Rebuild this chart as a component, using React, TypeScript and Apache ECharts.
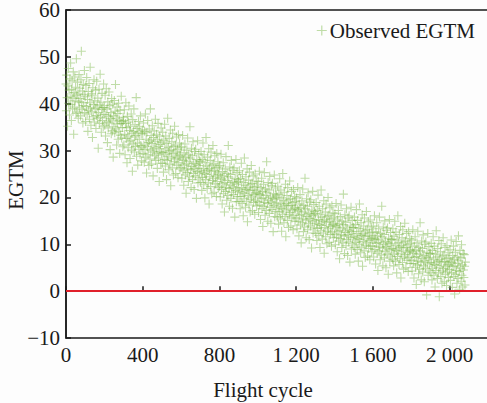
import React, { useEffect, useRef } from "react";
import * as echarts from "echarts";

// Observed EGTM, one reading every CYCLE_STEP flight cycles, grouped by 100 cycles
const CYCLE_STEP = 2;
const egtm0000 = [44.2, 38.5, 46.1, 41.3, 35.2, 43.8, 47.5, 40.1, 42.9, 37.6, 45.3, 39.8, 48.7, 41.6, 36.4, 43.1, 44.9, 38.9, 41.2, 46.8, 33.5, 42.4, 39.3, 45.7, 40.6, 43.5, 37.9, 49.6, 41.8, 38.2, 44.6, 42.1, 36.9, 40.4, 46.2, 39.1, 43.3, 41.1, 37.4, 45.1, 51.2, 40.2, 38.7, 42.7, 35.9, 44.1, 39.6, 41.9, 47.1, 38.1];
const egtm0100 = [41.5, 36.2, 43.9, 39.4, 45.6, 37.8, 40.9, 34.1, 42.6, 38.6, 44.3, 36.7, 40.2, 47.8, 39.1, 35.4, 42.1, 38.3, 41.7, 32.8, 43.4, 37.2, 39.8, 45.1, 36.1, 40.6, 38.9, 42.9, 34.7, 37.5, 44.8, 39.3, 36.9, 41.2, 30.5, 38.1, 43.1, 35.8, 39.7, 46.3, 37.1, 40.3, 33.9, 38.8, 42.2, 36.4, 39.2, 35.1, 44.2, 37.7];
const egtm0200 = [39.2, 35.4, 41.8, 33.1, 37.6, 43.2, 36.1, 38.9, 31.7, 40.4, 34.8, 37.2, 42.5, 35.9, 39.6, 30.2, 36.8, 38.1, 33.6, 41.1, 36.3, 34.2, 39.9, 28.6, 37.4, 35.1, 40.7, 33.8, 38.4, 44.1, 34.6, 36.9, 31.2, 39.3, 35.7, 37.9, 32.4, 40.1, 34.1, 36.5, 29.4, 38.6, 33.3, 35.8, 41.6, 32.7, 36.2, 34.9, 30.8, 37.1];
const egtm0300 = [36.4, 31.2, 38.7, 33.5, 29.1, 35.8, 40.2, 32.6, 34.9, 27.4, 37.3, 33.1, 30.6, 36.1, 39.5, 31.9, 34.3, 28.3, 35.2, 32.2, 37.8, 30.1, 33.7, 25.6, 36.6, 31.4, 34.1, 38.9, 29.7, 32.9, 35.5, 30.9, 33.2, 41.3, 28.8, 34.7, 31.6, 26.9, 33.9, 36.2, 30.3, 32.4, 35.1, 29.2, 37.4, 31.1, 33.6, 27.8, 30.7, 34.4];
const egtm0400 = [33.6, 29.4, 35.9, 31.2, 27.5, 34.1, 30.3, 37.8, 28.6, 32.4, 25.2, 33.9, 30.8, 36.4, 29.1, 31.7, 26.8, 34.6, 32.1, 28.2, 38.9, 30.1, 33.2, 27.1, 31.5, 35.3, 29.7, 24.6, 32.8, 30.4, 34.2, 28.9, 31.9, 36.7, 27.9, 30.6, 33.5, 29.3, 26.2, 32.3, 35.8, 28.4, 30.9, 23.4, 33.1, 29.8, 31.3, 27.3, 34.8, 29.5];
const egtm0500 = [31.8, 27.3, 33.9, 29.6, 25.4, 32.2, 28.1, 35.6, 30.4, 26.7, 33.1, 29.2, 23.8, 31.5, 27.9, 36.9, 28.8, 30.7, 25.9, 32.6, 29.9, 27.1, 34.4, 22.5, 30.1, 28.4, 31.9, 26.3, 33.7, 29.4, 24.8, 30.9, 27.6, 35.2, 28.2, 31.2, 25.1, 29.7, 32.9, 26.9, 28.6, 30.3, 24.2, 33.4, 27.4, 29.1, 31.6, 26.1, 28.9, 30.6];
const egtm0600 = [26.4, 30.8, 24.1, 28.2, 33.2, 25.7, 27.9, 22.6, 29.5, 26.9, 31.4, 24.8, 28.6, 20.9, 27.2, 30.1, 25.3, 32.7, 26.1, 23.4, 29.1, 27.6, 24.4, 35.1, 28.4, 25.9, 22.1, 30.5, 26.6, 28.9, 23.8, 31.9, 25.1, 27.3, 21.7, 29.8, 26.2, 24.6, 30.3, 27.1, 19.8, 28.1, 25.5, 32.1, 23.1, 26.8, 29.3, 24.2, 27.8, 25.8];
const egtm0700 = [27.6, 23.2, 29.8, 25.4, 21.5, 28.1, 24.3, 31.6, 26.2, 22.7, 29.1, 25.1, 19.9, 27.4, 23.8, 32.8, 24.9, 26.7, 21.9, 28.6, 25.8, 23.1, 30.4, 18.6, 26.1, 24.4, 27.9, 22.3, 29.7, 25.6, 20.8, 26.9, 23.6, 31.1, 24.1, 27.2, 21.1, 25.7, 28.9, 22.9, 24.6, 26.3, 20.2, 29.4, 23.4, 25.2, 27.6, 22.1, 24.9, 26.5];
const egtm0800 = [22.4, 26.8, 20.1, 24.2, 29.2, 21.7, 23.9, 18.6, 25.5, 22.9, 27.4, 20.8, 24.6, 16.9, 23.2, 26.1, 21.3, 28.7, 22.1, 19.4, 25.1, 23.6, 20.4, 31.1, 24.4, 21.9, 18.1, 26.5, 22.6, 24.9, 19.8, 27.9, 21.1, 23.3, 17.7, 25.8, 22.2, 20.6, 26.3, 23.1, 15.8, 24.1, 21.5, 28.1, 19.1, 22.8, 25.3, 20.2, 23.8, 21.8];
const egtm0900 = [23.4, 19.1, 25.7, 21.3, 17.6, 24.0, 20.2, 27.3, 22.1, 18.7, 24.9, 21.0, 16.1, 23.2, 19.7, 28.4, 20.8, 22.6, 17.9, 24.4, 21.7, 19.2, 26.1, 14.8, 22.0, 20.4, 23.7, 18.4, 25.4, 21.5, 16.9, 22.8, 19.6, 26.8, 20.1, 23.0, 17.2, 21.6, 24.6, 18.9, 20.6, 22.2, 16.4, 25.0, 19.4, 21.1, 23.5, 18.2, 20.9, 22.4];
const egtm1000 = [19.1, 23.4, 16.8, 20.9, 25.6, 18.4, 20.6, 15.3, 22.1, 19.7, 24.1, 17.6, 21.3, 13.8, 19.9, 22.8, 18.1, 25.3, 18.9, 16.2, 21.8, 20.4, 17.2, 27.6, 21.1, 18.7, 14.9, 23.2, 19.4, 21.6, 16.6, 24.5, 17.9, 20.1, 14.5, 22.5, 19.0, 17.4, 23.0, 19.8, 12.7, 20.8, 18.3, 24.8, 15.9, 19.6, 22.0, 17.0, 20.5, 18.6];
const egtm1100 = [20.1, 15.8, 22.4, 18.0, 14.3, 20.7, 16.9, 24.0, 18.8, 15.4, 21.6, 17.7, 12.8, 19.9, 16.4, 25.1, 17.5, 19.3, 14.6, 21.1, 18.4, 15.9, 22.8, 11.6, 18.7, 17.1, 20.4, 15.1, 22.1, 18.2, 13.6, 19.5, 16.3, 23.5, 16.8, 19.7, 13.9, 18.3, 21.3, 15.6, 17.3, 18.9, 13.1, 21.7, 16.1, 17.8, 20.2, 14.9, 17.6, 19.1];
const egtm1200 = [15.6, 19.9, 13.3, 17.4, 22.1, 14.9, 17.1, 11.8, 18.6, 16.2, 20.6, 14.1, 17.8, 10.3, 16.4, 19.3, 14.6, 21.8, 15.4, 12.7, 18.3, 16.9, 13.7, 24.1, 17.6, 15.2, 11.4, 19.7, 15.9, 18.1, 13.1, 21.0, 14.4, 16.6, 11.0, 19.0, 15.5, 13.9, 19.5, 16.3, 9.2, 17.3, 14.8, 21.3, 12.4, 16.1, 18.5, 13.5, 17.0, 15.1];
const egtm1300 = [16.6, 12.3, 18.9, 14.5, 10.8, 17.2, 13.4, 20.5, 15.3, 11.9, 18.1, 14.2, 9.3, 16.4, 12.9, 21.6, 14.0, 15.8, 11.1, 17.6, 14.9, 12.4, 19.3, 8.1, 15.2, 13.6, 16.9, 11.6, 18.6, 14.7, 10.1, 16.0, 12.8, 20.0, 13.3, 16.2, 10.4, 14.8, 17.8, 12.1, 13.8, 15.4, 9.6, 18.2, 12.6, 14.3, 16.7, 11.4, 14.1, 15.6];
const egtm1400 = [12.2, 16.5, 9.9, 14.0, 18.7, 11.5, 13.7, 8.4, 15.2, 12.8, 17.2, 10.7, 14.4, 6.9, 13.0, 15.9, 11.2, 18.4, 12.0, 9.3, 14.9, 13.5, 10.3, 20.7, 14.2, 11.8, 8.0, 16.3, 12.5, 14.7, 9.7, 17.6, 11.0, 13.2, 7.6, 15.6, 12.1, 10.5, 16.1, 12.9, 6.2, 13.9, 11.4, 17.9, 9.0, 12.7, 15.1, 10.1, 13.6, 11.7];
const egtm1500 = [13.6, 9.3, 15.8, 11.5, 7.9, 14.2, 10.4, 17.4, 12.3, 8.9, 15.1, 11.2, 6.4, 13.4, 9.9, 18.6, 11.0, 12.8, 8.2, 14.6, 11.9, 9.4, 16.3, 5.3, 12.2, 10.6, 13.9, 8.6, 15.6, 11.7, 7.2, 13.0, 9.8, 17.0, 10.3, 13.2, 7.5, 11.8, 14.8, 9.1, 10.8, 12.4, 6.7, 15.2, 9.6, 11.3, 13.7, 8.4, 11.1, 12.6];
const egtm1600 = [9.6, 13.9, 7.3, 11.4, 16.1, 8.9, 11.1, 5.8, 12.6, 10.2, 14.6, 8.1, 11.8, 4.4, 10.4, 13.3, 8.6, 15.8, 9.4, 6.7, 12.3, 10.9, 7.7, 18.1, 11.6, 9.2, 5.4, 13.7, 9.9, 12.1, 7.1, 15.0, 8.4, 10.6, 5.0, 13.0, 9.5, 7.9, 13.5, 10.3, 3.6, 11.3, 8.8, 15.3, 6.4, 10.1, 12.5, 7.5, 11.0, 9.1];
const egtm1700 = [11.1, 6.8, 13.3, 9.0, 5.4, 11.7, 7.9, 14.9, 9.8, 6.4, 12.6, 8.7, 3.9, 10.9, 7.4, 16.1, 8.5, 10.3, 5.7, 12.1, 9.4, 6.9, 13.8, 2.8, 9.7, 8.1, 11.4, 6.1, 13.1, 9.2, 4.7, 10.5, 7.3, 14.5, 7.8, 10.7, 5.0, 9.3, 12.3, 6.6, 8.3, 9.9, 4.2, 12.7, 7.1, 8.8, 11.2, 5.9, 8.6, 10.1];
const egtm1800 = [6.6, 10.9, 4.3, 8.4, 13.1, 5.9, 8.1, 2.8, 9.6, 7.2, 11.6, 5.1, 8.8, 1.4, 7.4, 10.3, 5.6, 12.8, 6.4, 3.7, 9.3, 7.9, 4.7, 14.6, 8.6, 6.2, 2.4, 10.7, 6.9, 9.1, 4.1, 12.0, 5.4, 7.6, 2.0, 10.0, 6.5, 4.9, 10.5, 7.3, -0.8, 8.3, 5.8, 12.3, 3.4, 7.1, 9.5, 4.5, 8.0, 6.1];
const egtm1900 = [8.1, 3.9, 10.2, 6.0, 2.4, 8.7, 4.9, 11.6, 6.8, 3.4, 9.6, 5.7, 0.9, 7.9, 4.4, 12.9, 5.5, 7.3, 2.7, 9.1, 6.4, 3.9, 10.8, -1.2, 6.7, 5.1, 8.4, 3.1, 10.1, 6.2, 1.7, 7.5, 4.3, 11.4, 4.8, 7.7, 2.0, 6.3, 9.3, 3.6, 5.3, 6.9, 1.2, 9.7, 4.1, 5.8, 8.2, 2.9, 5.6, 7.1];
const egtm2000 = [4.6, 8.8, 2.3, 6.4, 10.9, 3.9, 6.1, 0.8, 7.6, 5.2, 9.6, 3.1, 6.8, -0.6, 5.4, 8.3, 3.6, 10.6, 4.4, 1.7, 7.3, 5.9, 2.7, 11.8, 6.6, 4.2, 0.4, 8.7, 4.9, 7.1, 2.1, 9.9, 3.4, 5.6, 0.9, 8.0, 4.5, 2.9, 7.8, 5.3, 1.3, 6.2];

const observedEGTM = [
  ...egtm0000, ...egtm0100, ...egtm0200, ...egtm0300, ...egtm0400, ...egtm0500, ...egtm0600,
  ...egtm0700, ...egtm0800, ...egtm0900, ...egtm1000, ...egtm1100, ...egtm1200, ...egtm1300,
  ...egtm1400, ...egtm1500, ...egtm1600, ...egtm1700, ...egtm1800, ...egtm1900, ...egtm2000,
];

const xTicks = [0, 400, 800, 1200, 1600, 2000];
const yTicks = [-10, 0, 10, 20, 30, 40, 50, 60];
const thresholdEGTM = 0;
const seriesName = "Observed EGTM";

const PLUS = "path://M4.4,0H5.6V4.4H10V5.6H5.6V10H4.4V5.6H0V4.4H4.4Z";
const FONT = "Liberation Serif";
const FS = 21;

export default function App() {
  const ref = useRef<HTMLDivElement>(null);
  useEffect(() => {
    if (!ref.current) return;
    const chart = echarts.init(ref.current, undefined, { renderer: "svg" });
    const data = observedEGTM.map((v, i) => [i * CYCLE_STEP, v]);
    const fmtX = (v: number) =>
      xTicks.includes(v) ? (v >= 1000 ? String(v).replace(/(\d)(\d{3})$/, "$1 $2") : String(v)) : "";
    const fmtY = (v: number) => (yTicks.includes(v) ? String(v).replace("-", "\u2212") : "");
    chart.setOption({
      animation: false,
      backgroundColor: "#fdfdfd",
      textStyle: { fontFamily: FONT },
      grid: {
        left: 66,
        top: 10,
        right: -1,
        bottom: 65,
        outerBoundsMode: "none",
        containLabel: false,
        show: true,
        borderColor: "#1a1a1a",
        borderWidth: 1.5,
        backgroundColor: "transparent",
      },
      legend: {
        right: 7,
        top: 15,
        itemWidth: 10,
        itemHeight: 10,
        itemGap: 4,
        icon: PLUS,
        data: [seriesName],
        textStyle: { fontFamily: FONT, fontSize: FS, color: "#1a1a1a", padding: [0, 0, 0, -2] },
      },
      xAxis: {
        type: "value",
        min: 0,
        max: 2200,
        interval: 400,
        name: "Flight cycle",
        nameLocation: "middle",
        nameGap: 41,
        nameMoveOverlap: false,
        nameTextStyle: { fontFamily: FONT, fontSize: FS, color: "#1a1a1a", padding: [0, 28, 0, 0] },
        axisLine: { show: true, lineStyle: { color: "#1a1a1a", width: 1.5 } },
        axisTick: { show: true, inside: true, length: 5, lineStyle: { color: "#1a1a1a", width: 1.5 } },
        axisLabel: {
          fontFamily: FONT,
          fontSize: FS,
          color: "#1a1a1a",
          margin: 6,
          showMaxLabel: false,
          formatter: fmtX,
        },
        splitLine: { show: false },
      },
      yAxis: {
        type: "value",
        min: -10,
        max: 60,
        interval: 10,
        name: "EGTM",
        nameLocation: "middle",
        nameGap: 42,
        nameMoveOverlap: false,
        nameTextStyle: { fontFamily: FONT, fontSize: FS, lineHeight: 17, color: "#1a1a1a", padding: [0, 12, 0, 0] },
        axisLine: { show: true, lineStyle: { color: "#1a1a1a", width: 1.5 } },
        axisTick: { show: true, inside: true, length: 5, lineStyle: { color: "#1a1a1a", width: 1.5 } },
        axisLabel: { fontFamily: FONT, fontSize: FS, lineHeight: 14, color: "#1a1a1a", margin: 6, formatter: fmtY },
        splitLine: { show: false },
      },
      series: [
        {
          name: seriesName,
          type: "scatter",
          symbol: PLUS,
          symbolSize: 9,
          itemStyle: { color: "#7cb84a", opacity: 0.48 },
          data,
          markLine: {
            silent: true,
            symbol: "none",
            label: { show: false },
            lineStyle: { color: "#e0202a", width: 2, type: "solid", opacity: 1 },
            data: [{ yAxis: thresholdEGTM }],
          },
        },
      ],
    });
    return () => chart.dispose();
  }, []);
  return (
    <div
      ref={ref}
      style={{ position: "fixed", left: 0, top: 0, width: 487, height: 403 }}
    />
  );
}
